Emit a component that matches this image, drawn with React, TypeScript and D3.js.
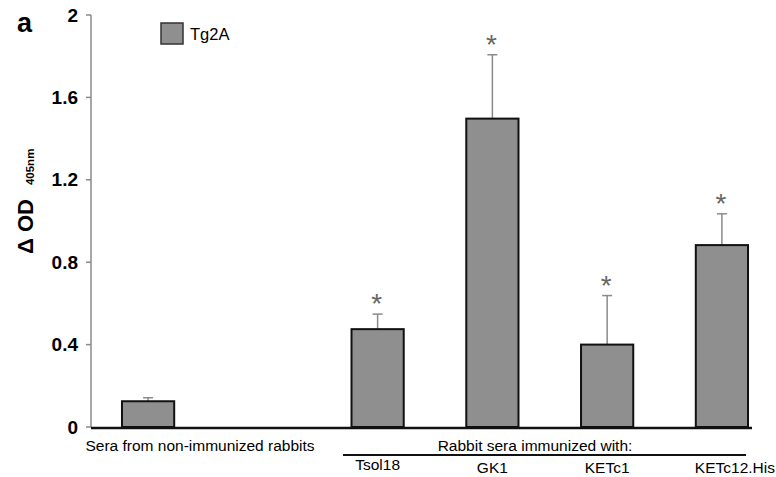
import React from "react";
import * as d3 from "d3";

const categories = ["Sera from non-immunized rabbits", "", "Tsol18", "GK1", "KETc1", "KETc12.His"];
const values = [0.125, null, 0.475, 1.497, 0.4, 0.883];
const errors = [0.017, null, 0.073, 0.31, 0.238, 0.152];
const significant = [false, false, true, true, true, true];
const yTicks = [0, 0.4, 0.8, 1.2, 1.6, 2];
const seriesName = "Tg2A";
const groupLabel = "Rabbit sera immunized with:";

const W = 776;
const H = 477;

export default function App() {
  const y = d3.scaleLinear().domain([0, 2]).range([427, 15]);
  const x = d3
    .scaleBand<string>()
    .domain(categories.map((c, i) => String(i)))
    .range([91, 779])
    .paddingInner(0.545)
    .paddingOuter(0.27);
  const bw = x.bandwidth();
  const barFill = "#8f8f8f";
  const grey = "#8a8a8a";
  const font = "Arial, 'Liberation Sans', sans-serif";
  const fs = 15.5;

  return (
    <svg
      width={W}
      height={H}
      style={{ position: "absolute", left: 0, top: 0, background: "#fff" }}
      fontFamily={font}
    >
      {/* panel letter */}
      <text x={17} y={32} fontSize={27} fontWeight="bold">a</text>

      {/* y axis */}
      <line x1={91} x2={91} y1={y(2)} y2={y(0)} stroke={grey} strokeWidth={1.5} />
      {yTicks.map((t) => (
        <g key={t}>
          <line x1={86} x2={91} y1={y(t)} y2={y(t)} stroke={grey} strokeWidth={1.5} />
          <text
            x={78}
            y={y(t)}
            dy="0.35em"
            textAnchor="end"
            fontSize={19}
            fontWeight="bold"
          >
            {d3.format("")(t)}
          </text>
        </g>
      ))}

      {/* y axis title */}
      <text
        transform={`translate(33, 254) rotate(-90)`}
        fontSize={22}
        fontWeight="bold"
      >
        Δ OD
        <tspan fontSize={11.5} dx={14} dy={1}>405nm</tspan>
      </text>

      {/* legend */}
      <rect x={161} y={23} width={22} height={21} fill={barFill} stroke="#333" strokeWidth={1.5} />
      <text x={190} y={40} fontSize={16.5}>{seriesName}</text>

      {/* bars */}
      {values.map((v, i) => {
        if (v == null) return null;
        const x0 = x(String(i))!;
        const cx = x0 + bw / 2;
        const e = errors[i] ?? 0;
        const top = y(v + e);
        return (
          <g key={i}>
            <line x1={cx} x2={cx} y1={y(v)} y2={top} stroke={grey} strokeWidth={1.5} />
            <line x1={cx - 5} x2={cx + 5} y1={top} y2={top} stroke={grey} strokeWidth={1.5} />
            <rect
              x={x0}
              y={y(v)}
              width={bw}
              height={y(0) - y(v)}
              fill={barFill}
              stroke="#111"
              strokeWidth={2}
            />
            {significant[i] && (
              <text x={cx - 1} y={top - 1} textAnchor="middle" fontSize={28} fill="#666">
                *
              </text>
            )}
          </g>
        );
      })}

      {/* x baseline */}
      <line x1={91} x2={752} y1={y(0) + 1} y2={y(0) + 1} stroke="#111" strokeWidth={2.5} />

      {/* x labels */}
      <text x={200} y={451} textAnchor="middle" fontSize={fs}>{categories[0]}</text>
      <text x={535} y={451} textAnchor="middle" fontSize={fs}>{groupLabel}</text>
      <line x1={343} x2={746} y1={455} y2={455} stroke="#111" strokeWidth={2} />
      {categories.slice(2).map((c, k) => {
        const i = k + 2;
        const cx = x(String(i))! + bw / 2;
        const off = i === 5 ? 13 : 0;
        return (
          <text key={c} x={cx + off} y={i === 2 ? 470 : 473} textAnchor="middle" fontSize={fs}>
            {c}
          </text>
        );
      })}
    </svg>
  );
}
